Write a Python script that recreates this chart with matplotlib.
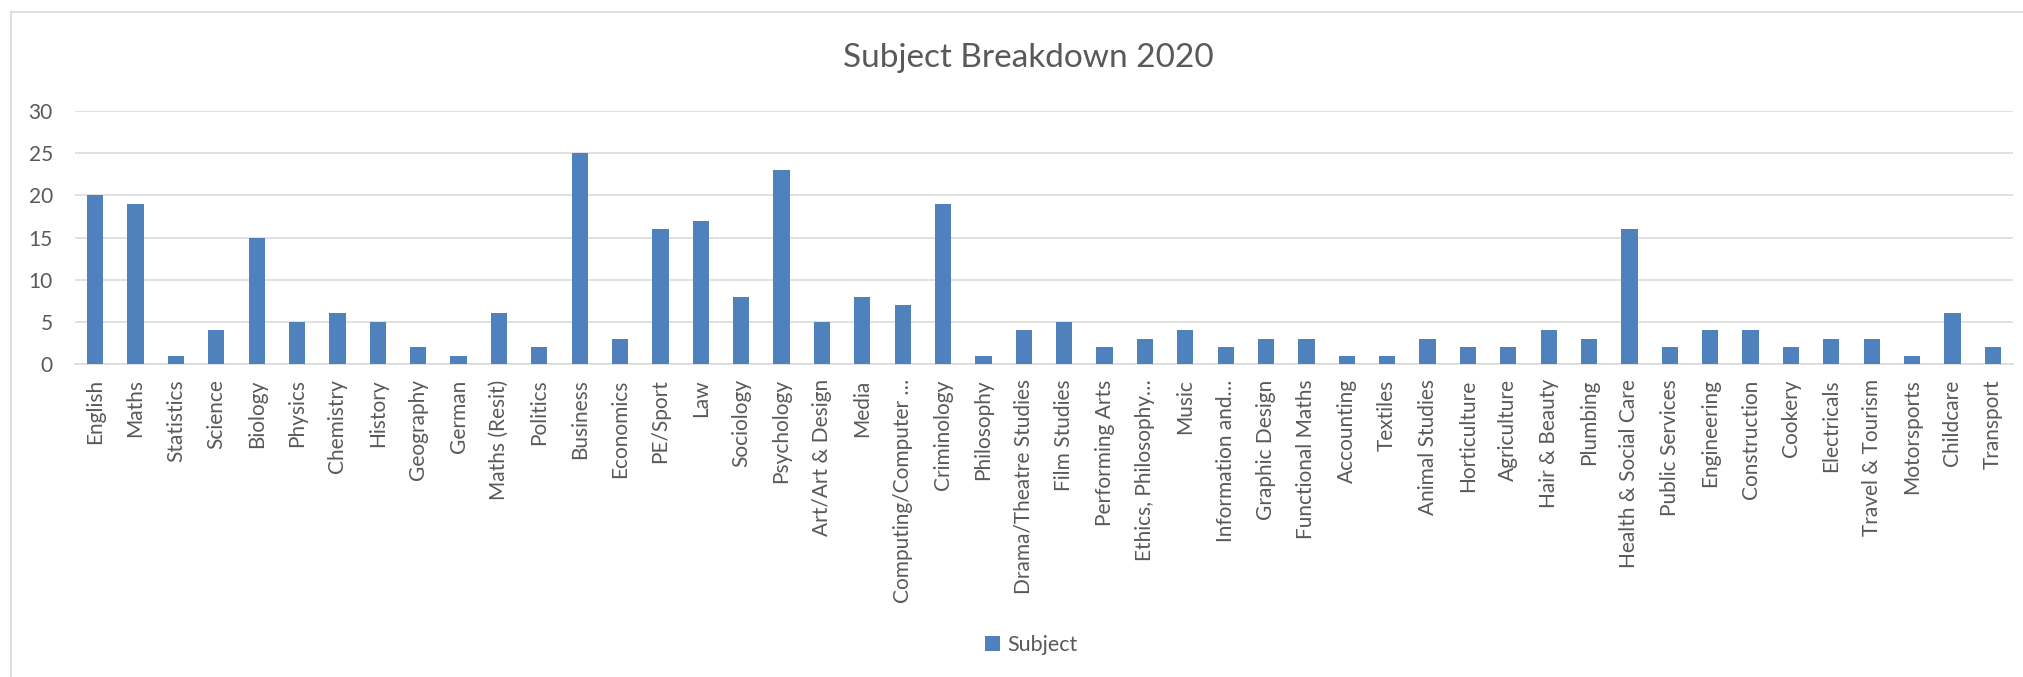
import matplotlib
matplotlib.use("Agg")
import matplotlib.pyplot as plt
from matplotlib.lines import Line2D
from matplotlib.patches import Patch
import numpy as np

# ---------- data ----------
subjects = [
    "English", "Maths", "Statistics", "Science", "Biology", "Physics",
    "Chemistry", "History", "Geography", "German", "Maths (Resit)", "Politics",
    "Business", "Economics", "PE/Sport", "Law", "Sociology", "Psychology",
    "Art/Art & Design", "Media", "Computing/Computer …", "Criminology",
    "Philosophy", "Drama/Theatre Studies", "Film Studies", "Performing Arts",
    "Ethics, Philosophy…", "Music", "Information and…", "Graphic Design",
    "Functional Maths", "Accounting", "Textiles", "Animal Studies",
    "Horticulture", "Agriculture", "Hair & Beauty", "Plumbing",
    "Health & Social Care", "Public Services", "Engineering", "Construction",
    "Cookery", "Electricals", "Travel & Tourism", "Motorsports", "Childcare",
    "Transport",
]
counts = [
    20, 19, 1, 4, 15, 5,
    6, 5, 2, 1, 6, 2,
    25, 3, 16, 17, 8, 23,
    5, 8, 7, 19,
    1, 4, 5, 2,
    3, 4, 2, 3,
    3, 1, 1, 3,
    2, 2, 4, 3,
    16, 2, 4, 4,
    2, 3, 3, 1, 6,
    2,
]
y_ticks = [0, 5, 10, 15, 20, 25, 30]

# ---------- style ----------
BAR = "#4F81BD"
GRID = "#D9D9D9"
TEXT = "#595959"
FONT = "Lato"

plt.rcParams["font.family"] = [FONT, "DejaVu Sans"]

W, H = 2024, 677
fig = plt.figure(figsize=(W / 100, H / 100), dpi=100)

# plot area in pixel terms (from the reference)
left, right, top, bottom = 75, 2013, 111, 364
ax = fig.add_axes([left / W, 1 - bottom / H, (right - left) / W, (bottom - top) / H])

x = np.arange(len(subjects))
ax.bar(x, counts, width=0.4, color=BAR, linewidth=0, zorder=3)

ax.set_xlim(-0.5, len(subjects) - 0.5)
ax.set_ylim(0, 30)
ax.set_yticks(y_ticks)
ax.set_xticks(x)
ax.set_xticklabels(subjects, rotation=90, ha="center", va="top")

ax.tick_params(axis="y", length=0, pad=16, labelsize=15, labelcolor=TEXT)
ax.tick_params(axis="x", length=0, pad=11, labelsize=15, labelcolor=TEXT)

ax.grid(axis="y", color=GRID, linewidth=1.1, zorder=0)
for side in ("top", "right", "left"):
    ax.spines[side].set_visible(False)
ax.spines["bottom"].set_color(GRID)
ax.spines["bottom"].set_linewidth(1.1)

# title (centred on the whole chart area, which runs a bit past the right edge)
fig.text(1028 / W, 1 - 58 / H, "Subject Breakdown 2020", ha="center", va="center",
         fontsize=24, color=TEXT)

# legend
handle = Patch(facecolor=BAR, edgecolor="none", label="Subject")
fig.legend(handles=[handle], loc="center", bbox_to_anchor=(1031 / W, 1 - 645 / H),
           frameon=False, fontsize=15.5, handlelength=0.7, handleheight=0.7,
           handletextpad=0.35, labelcolor=TEXT)

# chart border (left and top visible in the reference)
fig.add_artist(Line2D([11 / W, 11 / W], [0, 1 - 12 / H], transform=fig.transFigure,
                      color=GRID, linewidth=1.2))
fig.add_artist(Line2D([11 / W, 1], [1 - 12 / H, 1 - 12 / H], transform=fig.transFigure,
                      color=GRID, linewidth=1.2))

fig.savefig("out.png", dpi=100, facecolor="white")
